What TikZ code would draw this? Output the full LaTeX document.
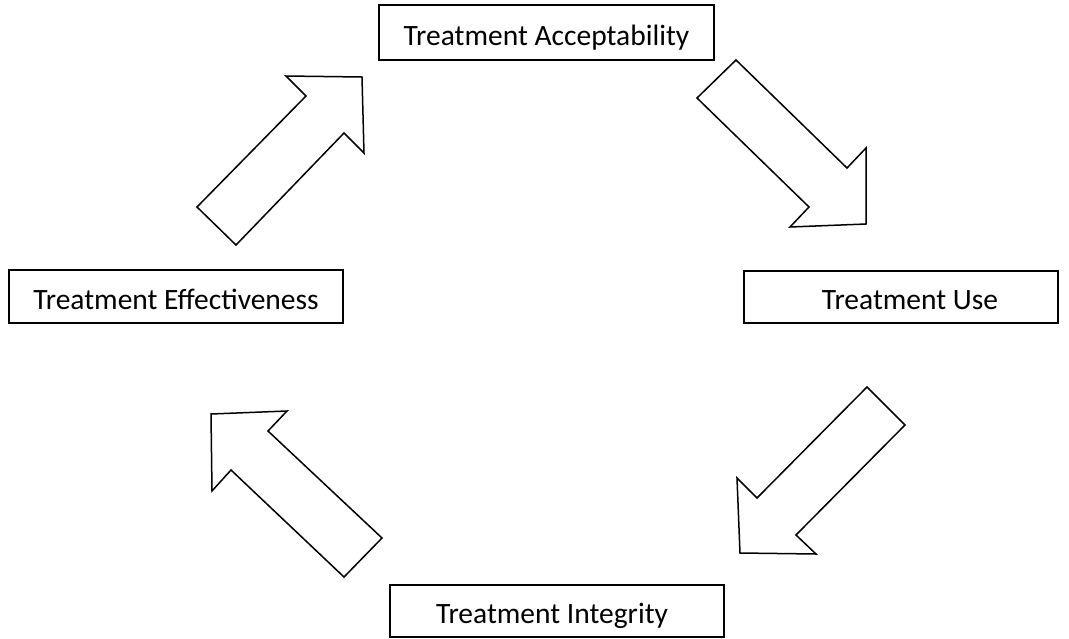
\documentclass[tikz,border=0pt]{standalone}
\usepackage{fontspec}
\setmainfont{Carlito}
\begin{document}
\begin{tikzpicture}[x=1pt,y=-1pt,
  box/.style={draw=black,line width=1.6pt,fill=white,rectangle,inner sep=0pt,
    text height=25pt,text depth=0pt,
    font=\fontsize{29.5}{35}\selectfont},
  blockarrow/.style={draw=black,line width=1.5pt,fill=white,line join=miter}]
\useasboundingbox[fill=white] (0,0) rectangle (1069,638);
\node[box,minimum width=335pt,minimum height=55pt] (acc) at (546.5,32.5) {Treatment Acceptability};
\node[box,minimum width=334pt,minimum height=53pt] (eff) at (176,296.5) {Treatment Effectiveness};
\node[box,minimum width=314pt,minimum height=52pt] (use) at (901,297) {\hspace*{18pt}Treatment Use};
\node[box,minimum width=334pt,minimum height=52pt] (int) at (557,611) {Treatment Integrity\hspace*{10pt}};
% block arrows
\draw[blockarrow] (197,207) -- (306,96) -- (286,76) -- (362,77) -- (364,153) -- (344,133) -- (236,245) -- cycle;
\draw[blockarrow] (697,98) -- (736,60) -- (847,168) -- (866,148) -- (866,224) -- (790,227) -- (809,207) -- cycle;
\draw[blockarrow] (867,387) -- (905,425) -- (796,535) -- (816,554) -- (740,553) -- (737,478) -- (757,498) -- cycle;
\draw[blockarrow] (211,414) -- (287,411) -- (268,431) -- (382,538) -- (344,577) -- (231,470) -- (212,491) -- cycle;
\end{tikzpicture}
\end{document}
